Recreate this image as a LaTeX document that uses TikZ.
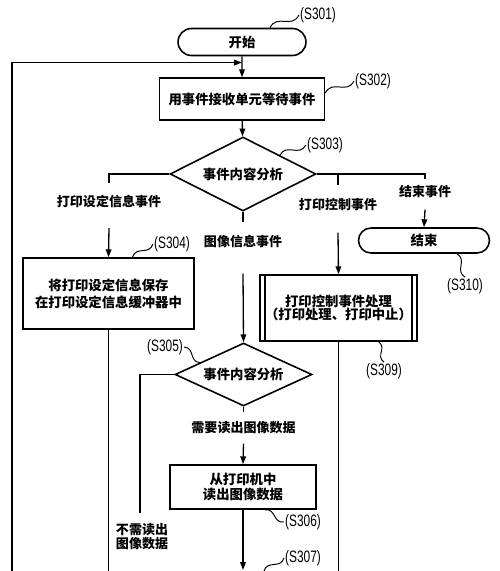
\documentclass[tikz,border=0pt]{standalone}
\usepackage{fontspec}
\usetikzlibrary{positioning,arrows.meta,calc,shapes.geometric,shapes.misc}
\newfontfamily\cjk{Noto Sans CJK SC}
\newfontfamily\tagfont{Liberation Sans}[FakeStretch=0.72]
\tikzset{
  box/.style={
    draw, line width=0.9pt, align=center, inner sep=2pt,
    font=\cjk\bfseries\fontsize{7.6}{9}\selectfont,
  },
  proc/.style  ={box, rectangle},
  term/.style  ={box, rounded rectangle, minimum height=0.54cm},
  decide/.style={box, diamond, aspect=2, inner sep=0pt},
  brlbl/.style ={align=center, inner sep=0pt,
                 font=\cjk\bfseries\fontsize{7.4}{7.9}\selectfont},
  tag/.style   ={inner sep=0.5pt, font=\tagfont\fontsize{9.4}{10}\selectfont},
  flow/.style  ={-{Triangle[length=4.5pt,width=3.2pt]}, line width=0.75pt},
  wire/.style  ={line width=0.75pt},
  tagwave/.style={line width=0.55pt},
}
% little tilde-shaped leader from a box to its step number
\newcommand{\tagline}[2]{%
  \draw[tagwave] (#1) .. controls ($(#1)!0.5!40:(#2)$) and ($(#2)!0.5!40:(#1)$) .. (#2);}

\begin{document}
\begin{tikzpicture}[x=0.02cm, y=-0.02cm]
\useasboundingbox (0,0) rectangle (500,571);

% ------------------------------------------------------------- boxes
\node[term, minimum width=2.7cm] (start) at (242,42) {开始};
\node[proc, minimum width=3.3cm, minimum height=0.84cm] (s302) at (242,99)
  {用事件接收单元等待事件};
\node[decide, minimum width=2.92cm, minimum height=1.48cm] (s303) at (243,174)
  {事件内容分析};
\node[proc, minimum width=3.42cm, minimum height=1.42cm] (s304) at (108.5,293.5)
  {将打印设定信息保存\\[0.6pt]在打印设定信息缓冲器中};
\node[proc, minimum width=3.14cm, minimum height=1.32cm] (s309) at (338.5,308)
  {打印控制事件处理\\[-1.3pt]（打印处理、打印中止）};
\draw[line width=0.9pt] ($(s309.north west)+(6,0)$) -- ($(s309.south west)+(6,0)$);
\draw[line width=0.9pt] ($(s309.north east)+(-6,0)$) -- ($(s309.south east)+(-6,0)$);
\node[term, minimum width=2.76cm, minimum height=0.5cm] (s310) at (424,240.5) {结束};
\node[decide, minimum width=2.74cm, minimum height=1.26cm] (s305) at (243.5,374.5)
  {事件内容分析};
\node[proc, minimum width=2.92cm, minimum height=0.88cm] (s306) at (243,487)
  {从打印机中\\读出图像数据};

% ------------------------------------------------------------- branch labels
\node[brlbl] (evset) at (109,201.5) {打印设定信息事件};
\node[brlbl] (evimg) at (243,242) {图像信息事件};
\node[brlbl] (evctl) at (338,205) {打印控制事件};
\node[brlbl] (evend) at (425,192) {结束事件};
\node[brlbl] (needrd) at (243.5,428) {需要读出图像数据};
\node[brlbl, align=left] (noread) at (142,537) {不需读出\\图像数据};

% ------------------------------------------------------------- connectors
\coordinate (loopbot) at (12,571);
\coordinate (join) at ($(start.south)!0.3!(s302.north)$);
\draw[flow] (loopbot) |- (join);
\draw[flow] (start) -- (s302);
\draw[flow] (s302) -- (s303);

\draw[wire] (s303.west) -| ($(evset.north)+(0,-12)$);
\draw[flow] ($(evset.south)+(0,20)$) -- (s304.north);
\draw[wire] (s303.south) -- ($(evimg.north)+(0,-13)$);
\draw[flow] ($(evimg.south)+(0,25)$) -- (s305.north);
\draw[wire] (s303.east) -| ($(evend.north)+(0,-6)$);
\draw[wire] (s303.east -| evctl.north) -- ($(evctl.north)+(0,-13)$);
\draw[flow] ($(evctl.south)+(0,21)$) -- (s309.north);
\draw[flow] ($(evend.south)+(0,11)$) -- (s310.north);

\draw[wire] (s305.south) -- ($(needrd.north)+(0,-9)$);
\draw[flow] ($(needrd.south)+(0,9)$) -- (s306.north);
\draw[wire] (s305.west) -| ($(noread.north)+(-2,-11)$);

% runs on past the lower edge
\draw[wire] (s304.south) -- (s304.south |- loopbot);
\draw[wire] (s309.south) -- (s309.south |- loopbot);
\draw[flow] (s306.south) -- ($(s306.south |- loopbot)+(0,-1)$);

% ------------------------------------------------------------- step numbers
\foreach \nm/\x/\y in {301/318/15, 302/373/81, 303/325/145, 304/172/244,
    310/465/286, 309/384/371, 305/165/347, 306/303/522, 307/303/558}
  \node[tag] (t\nm) at (\x,\y) {(S\nm)};

\coordinate (w301) at ($(start.north)+(28,0)$);
\coordinate (w302) at ($(s302.east)+(0,-6)$);
\coordinate (w303) at ($(s303.north)!0.5!(s303.east)$);
\coordinate (w304) at ($(s304.north)+(24,0)$);
\coordinate (w309) at ($(s309.south)+(40,0)$);
\coordinate (w310) at ($(s310.south)+(33,0)$);
\coordinate (w305) at ($(s305.north)!0.63!(s305.west)$);
\coordinate (w306) at ($(s306.south)+(22,0)$);
\coordinate (w307) at ($(s306.south |- loopbot)+(21,0)$);

\tagline{w301}{t301.west}
\tagline{w302}{t302.west}
\tagline{w303}{t303.west}
\tagline{w304}{t304.west}
\tagline{w309}{t309.north}
\tagline{w310}{t310.north}
\tagline{w305}{t305.east}
\tagline{w306}{t306.west}
\tagline{w307}{t307.west}

\end{tikzpicture}
\end{document}
